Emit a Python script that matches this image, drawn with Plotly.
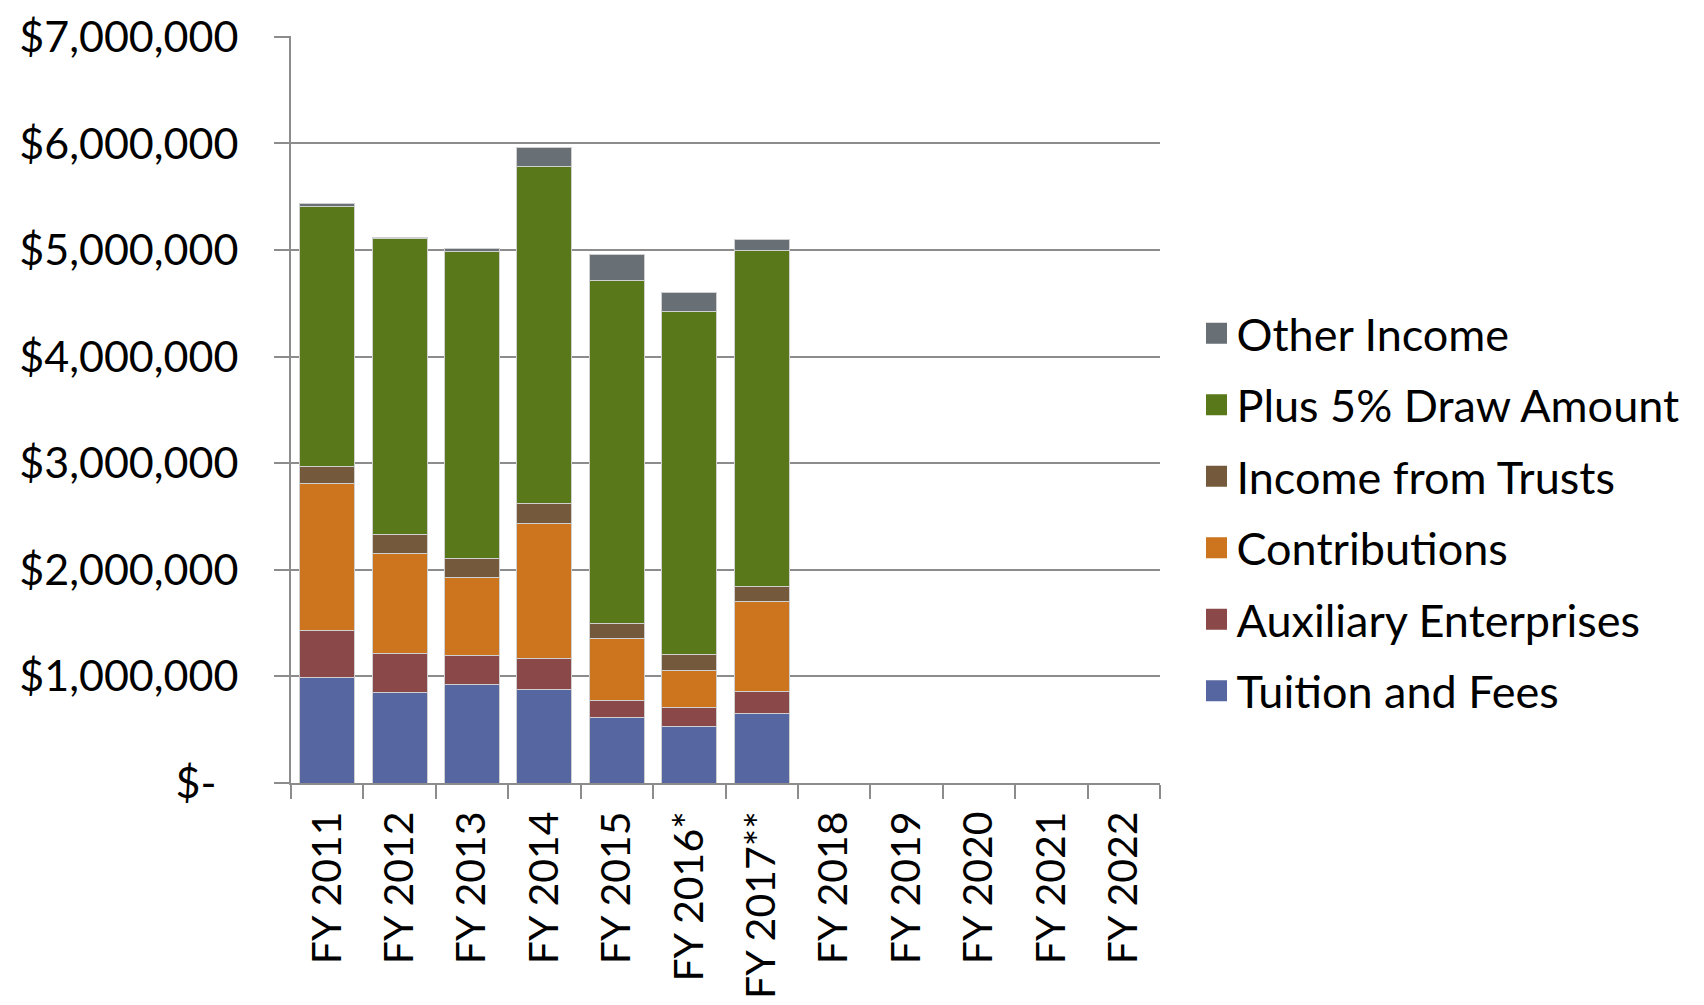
import plotly.graph_objects as go

categories = ["FY 2011", "FY 2012", "FY 2013", "FY 2014", "FY 2015", "FY 2016*", "FY 2017**",
              "FY 2018", "FY 2019", "FY 2020", "FY 2021", "FY 2022"]

tuition = [989000, 852000, 922000, 878000, 616000, 530000, 652000]
auxiliary = [440000, 366000, 270000, 288000, 162000, 175000, 204000]
contributions = [1385000, 939000, 732000, 1271000, 573000, 350000, 846000]
trusts = [156000, 177000, 184000, 189000, 141000, 148000, 145000]
draw = [2442000, 2772000, 2876000, 3156000, 3226000, 3216000, 3147000]
other = [26000, 7000, 29000, 181000, 236000, 180000, 104000]

series_names = ["Tuition and Fees", "Auxiliary Enterprises", "Contributions",
                "Income from Trusts", "Plus 5% Draw Amount", "Other Income"]
series_values = [tuition, auxiliary, contributions, trusts, draw, other]
colors = ["#5566a0", "#8b4849", "#cc741e", "#75593d", "#59781a", "#687076"]

y_tickvals = [0, 1000000, 2000000, 3000000, 4000000, 5000000, 6000000, 7000000]
y_ticktext = ["$-\u00a0\u00a0", "$1,000,000", "$2,000,000", "$3,000,000", "$4,000,000",
              "$5,000,000", "$6,000,000", "$7,000,000"]

FONT = "Lato, 'Open Sans', sans-serif"

fig = go.Figure()
for name, vals, col in zip(series_names, series_values, colors):
    padded = vals + [None] * (len(categories) - len(vals))
    fig.add_trace(go.Bar(
        x=categories, y=padded, name=name,
        marker=dict(color=col, line=dict(color="#d0d0d0", width=1)),
        showlegend=False,
    ))
# legend entries, top to bottom as in the original
for name, col in reversed(list(zip(series_names, colors))):
    fig.add_trace(go.Scatter(
        x=[None], y=[None], mode="markers", name=name, legendgroup=name,
        marker=dict(symbol="square", size=16, color=col, line=dict(color=col, width=5)),
        showlegend=True,
    ))

grid_col = "#8c8c8c"
fig.update_layout(
    width=1704, height=1005,
    barmode="stack", bargap=0.24,
    plot_bgcolor="white", paper_bgcolor="white",
    margin=dict(l=283, r=552, t=28, b=230),
    font=dict(family=FONT, size=43, color="black"),
    legend=dict(x=1.042, y=0.65, xanchor="left", yanchor="top",
                traceorder="grouped", tracegroupgap=10,
                font=dict(size=45, family=FONT), itemsizing="trace",
                bgcolor="rgba(0,0,0,0)"),
    xaxis=dict(
        categoryorder="array", categoryarray=categories,
        tickangle=-90, tickson="boundaries", ticks="outside", ticklen=14,
        tickwidth=2, tickcolor=grid_col, showline=True, linecolor=grid_col,
        linewidth=2, showgrid=False, tickfont=dict(size=41, family=FONT),
        range=[-0.5, len(categories) - 0.5], automargin=False,
        ticklabelstandoff=10,
    ),
    yaxis=dict(
        range=[0, 7008000], tickvals=y_tickvals, ticktext=y_ticktext,
        showgrid=True, gridcolor=grid_col, gridwidth=2,
        showline=True, linecolor=grid_col, linewidth=2,
        ticks="outside", ticklen=15, tickwidth=2, tickcolor=grid_col,
        zeroline=False, tickfont=dict(size=43, family=FONT),
        ticklabelstandoff=27, automargin=False,
    ),
)

fig.write_html("out.html")
